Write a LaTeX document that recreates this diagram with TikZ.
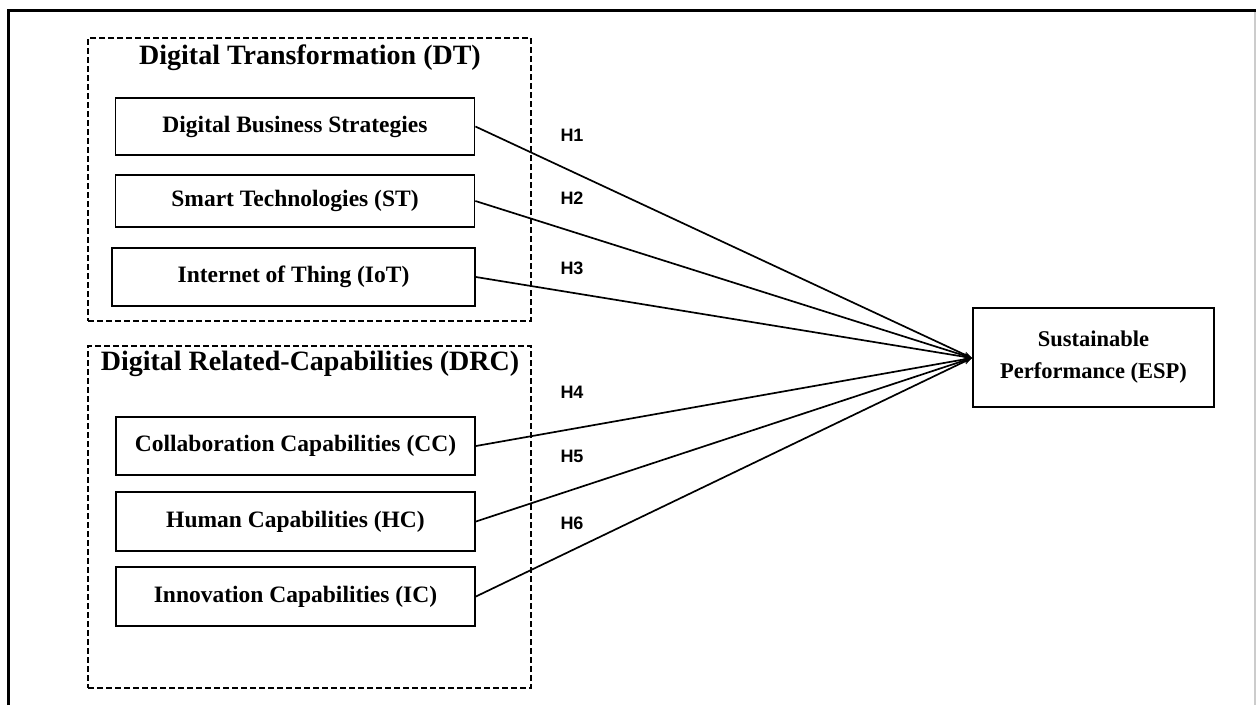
\documentclass[tikz,border=0pt]{standalone}
\usepackage{fontspec}
\setmainfont{Liberation Serif}
\newfontfamily\arialf{Liberation Sans}
\usetikzlibrary{arrows.meta}
\begin{document}
\begin{tikzpicture}[x=1pt,y=-1pt,
  varbox/.style={draw,line width=1.8pt,inner sep=0pt,minimum width=359,font=\fontsize{23.5}{26}\selectfont\bfseries},
  groupbox/.style={draw,dashed,dash pattern=on 6pt off 3pt,line width=1.6pt,inner sep=0pt,minimum width=443},
  grouptitle/.style={font=\fontsize{28}{30}\selectfont\bfseries},
  hyp/.style={font=\arialf\fontsize{18}{20}\selectfont\bfseries},
  link/.style={line width=1.7pt,-{Stealth[length=8pt,width=6pt]}}]
\useasboundingbox (0,0) rectangle (1256,705);
% frame
\draw[line width=3pt] (8,705) -- (8,10) -- (1256,10);
\draw[line width=1.2pt,black!20] (1255,12) -- (1255,705);
% groups
\node[groupbox,minimum height=283] (dt) at (309.5,179.5) {};
\node[groupbox,minimum height=342] (drc) at (309.5,517) {};
\node[grouptitle] (dtt) at (310,58) {Digital Transformation (DT)};
\node[grouptitle] (drct) at (310,364) {Digital Related-Capabilities (DRC)};
% variables
\node[varbox,minimum height=57] (dbs) at (295,126.5) {Digital Business Strategies};
\node[varbox,minimum height=52] (st) at (295,201) {Smart Technologies (ST)};
\node[varbox,minimum width=363,minimum height=58] (iot) at (293.5,277) {Internet of Thing (IoT)};
\node[varbox,minimum height=58] (cc) at (295.5,446) {Collaboration Capabilities (CC)};
\node[varbox,minimum height=59] (hc) at (295.5,521.5) {Human Capabilities (HC)};
\node[varbox,minimum height=59] (ic) at (295.5,596.5) {Innovation Capabilities (IC)};
\node[draw,line width=1.8pt,inner sep=0pt,minimum width=241,minimum height=99,align=center,
  font=\fontsize{22.5}{32}\selectfont\bfseries] (esp) at (1093.5,357.5) {Sustainable\\Performance (ESP)};
\coordinate (tip) at (972,358);
% links
\foreach \n in {dbs,st,iot,cc,hc,ic}{\draw[link] (\n.east) -- (tip);}
% hypotheses
\node[hyp] (h1) at (572,135) {H1};
\node[hyp] (h2) at (572,198) {H2};
\node[hyp] (h3) at (572,268) {H3};
\node[hyp] (h4) at (572,392) {H4};
\node[hyp] (h5) at (572,456) {H5};
\node[hyp] (h6) at (572,523) {H6};
\end{tikzpicture}
\end{document}
